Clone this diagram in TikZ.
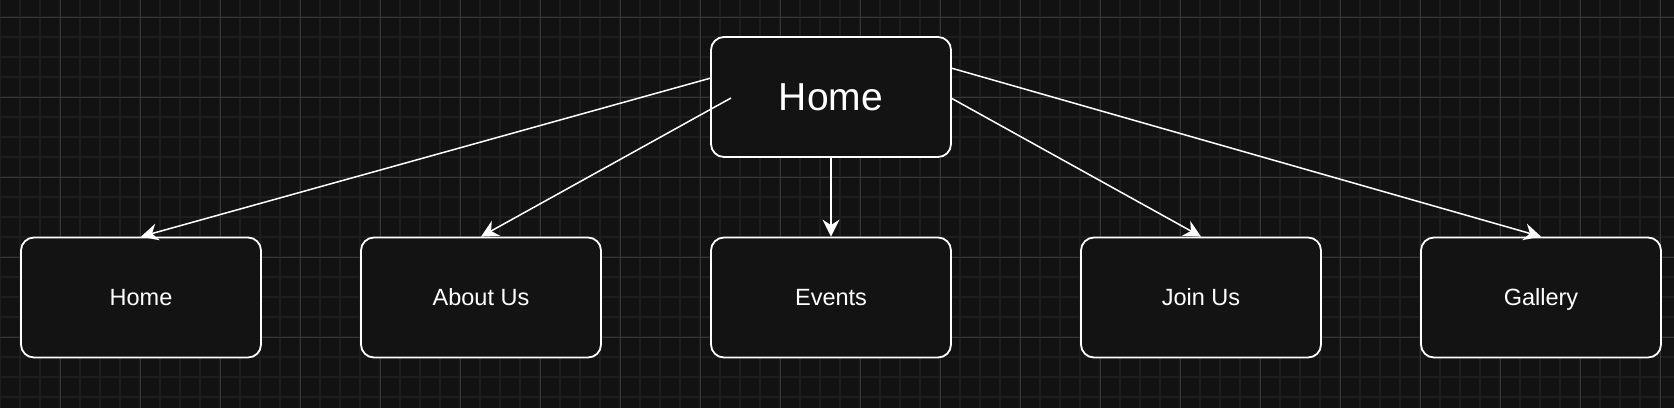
\documentclass[tikz,border=0pt]{standalone}
\usepackage{fontspec}
\setmainfont{Liberation Sans}
\usetikzlibrary{arrows.meta}
\definecolor{bgc}{HTML}{121212}
\definecolor{minorc}{HTML}{1D1D1D}
\definecolor{majorc}{HTML}{363636}
\definecolor{boxfill}{HTML}{131313}
\tikzset{
  pagebox/.style={draw=white, line width=1.8pt, rounded corners=13pt, fill=boxfill,
    minimum width=240pt, minimum height=120pt, text=white, inner sep=0pt,
    text height=16.8pt, text depth=0pt,
    font=\fontsize{23.5}{28}\selectfont},
  topbox/.style={pagebox, text height=27.9pt, font=\fontsize{39}{46}\selectfont},
  conn/.style={draw=white, line width=1.5pt, -{Stealth[length=17pt,width=17pt,inset=5.5pt]}}
}
\begin{document}
\begin{tikzpicture}[x=1pt,y=-1pt]
\useasboundingbox (0,0) rectangle (1674,408);
\fill[bgc] (0,0) rectangle (1674,408);
\foreach \x in {0,20,...,1680} \draw[minorc, line width=2pt] (\x,0) -- (\x,408);
\foreach \y in {17,37,...,417} \draw[minorc, line width=2pt] (0,\y) -- (1674,\y);
\foreach \x in {60,140,...,1680} \draw[majorc, line width=1pt] (\x,0) -- (\x,408);
\foreach \y in {17,97,...,417} \draw[majorc, line width=1pt] (0,\y) -- (1674,\y);

\node[topbox] (top) at (831,97) {Home};
\node[pagebox] (home) at (141,297.5) {Home};
\node[pagebox] (about) at (481,297.5) {About Us};
\node[pagebox] (events) at (831,297.5) {Events};
\node[pagebox] (join) at (1201,297.5) {Join Us};
\node[pagebox] (gallery) at (1541,297.5) {Gallery};

\coordinate (s1) at (711,78);
\coordinate (s2) at (731,98);
\coordinate (s4) at (951,98);
\coordinate (s5) at (951,68);

\draw[conn] (s1) -- (home.north);
\draw[conn] (s2) -- (about.north);
\draw[conn] (top.south) -- (events.north);
\draw[conn] (s4) -- (join.north);
\draw[conn] (s5) -- (gallery.north);
\end{tikzpicture}
\end{document}
